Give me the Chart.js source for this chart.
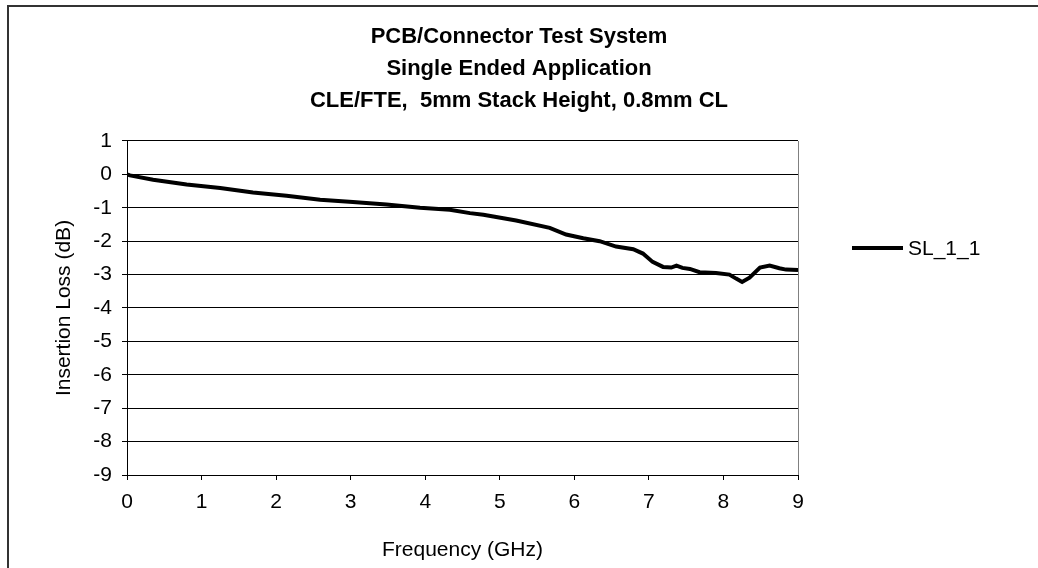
<!DOCTYPE html>
<html>
<head>
<meta charset="utf-8">
<script src="https://cdn.jsdelivr.net/npm/chart.js@4.4.0/dist/chart.umd.min.js"></script>
<style>
  html, body { margin: 0; padding: 0; background: #ffffff; }
  #wrap { width: 1038px; height: 568px; position: relative; }
  canvas { display: block; }
</style>
</head>
<body>
<div id="wrap"><canvas id="c" width="1038" height="568"></canvas></div>
<script>
// ---- data ----
const titleLines = ["PCB/Connector Test System", "Single Ended Application", "CLE/FTE,  5mm Stack Height, 0.8mm CL"];
const seriesName = "SL_1_1";
const freqGHz = [0, 0.04, 0.35, 0.8, 1.25, 1.69, 2.14, 2.59, 3.03, 3.48, 3.93, 4.33, 4.6, 4.78, 5.22, 5.67, 5.89, 6.12, 6.34, 6.56, 6.79, 6.92, 7.05, 7.19, 7.3, 7.37, 7.45, 7.55, 7.68, 7.9, 8.08, 8.17, 8.25, 8.35, 8.49, 8.62, 8.75, 8.84, 9.0];
const lossDB = [0, -0.03, -0.16, -0.30, -0.41, -0.54, -0.64, -0.76, -0.83, -0.90, -1.0, -1.06, -1.16, -1.21, -1.38, -1.6, -1.8, -1.91, -2.0, -2.16, -2.24, -2.37, -2.62, -2.77, -2.79, -2.73, -2.8, -2.83, -2.93, -2.95, -3.0, -3.12, -3.22, -3.09, -2.79, -2.73, -2.81, -2.85, -2.86];
const xTicks = [0, 1, 2, 3, 4, 5, 6, 7, 8, 9];
const yTicks = [1, 0, -1, -2, -3, -4, -5, -6, -7, -8, -9];
const xTitle = "Frequency (GHz)";
const yTitle = "Insertion Loss (dB)";

const FONT = "'Liberation Sans', Arial, sans-serif";
const points = freqGHz.map((f, i) => ({ x: f, y: lossDB[i] }));

const frame = {
  id: 'frame',
  beforeDraw(chart) {
    const ctx = chart.ctx;
    ctx.save();
    ctx.fillStyle = '#ffffff';
    ctx.fillRect(0, 0, chart.width, chart.height);
    ctx.strokeStyle = '#333333';
    ctx.lineWidth = 2;
    ctx.strokeRect(8, 6, 1200, 800);
    ctx.restore();
  }
};

const sideLegend = {
  id: 'sideLegend',
  afterDraw(chart) {
    const ctx = chart.ctx;
    const ds = chart.data.datasets[0];
    const x0 = chart.chartArea.right + 54;
    const y0 = 248;
    ctx.save();
    ctx.strokeStyle = ds.borderColor;
    ctx.lineWidth = ds.borderWidth;
    ctx.beginPath();
    ctx.moveTo(x0, y0);
    ctx.lineTo(x0 + 51, y0);
    ctx.stroke();
    ctx.fillStyle = '#000000';
    ctx.font = "21px " + FONT;
    ctx.textBaseline = 'middle';
    ctx.textAlign = 'left';
    ctx.fillText(ds.label, x0 + 56, y0 + 1);
    ctx.restore();
  }
};

new Chart(document.getElementById('c'), {
  type: 'line',
  data: {
    datasets: [{
      label: seriesName,
      data: points,
      borderColor: '#000000',
      backgroundColor: '#000000',
      borderWidth: 4,
      pointRadius: 0,
      tension: 0,
      fill: false
    }]
  },
  options: {
    responsive: false,
    animation: false,
    events: [],
    layout: { padding: 0 },
    plugins: {
      legend: { display: false },
      tooltip: { enabled: false },
      title: {
        display: true,
        text: titleLines,
        color: '#000000',
        font: { family: FONT, size: 22, weight: 'bold', lineHeight: 1.4545 },
        padding: { top: 21, bottom: 24 }
      }
    },
    scales: {
      x: {
        type: 'linear',
        min: 0, max: 9,
        afterBuildTicks(scale) { scale.ticks = xTicks.map(v => ({ value: v })); },
        afterFit(scale) { scale.height = 93; },
        ticks: { color: '#000000', font: { family: FONT, size: 21 }, padding: 10, maxRotation: 0, autoSkip: false,
                 callback: v => String(v) },
        grid: {
          drawOnChartArea: true,
          color: c => (c.tick && c.tick.value === 9) ? '#808080' : 'rgba(0,0,0,0)',
          tickColor: '#000000',
          tickLength: 5,
          lineWidth: 1
        },
        border: { color: '#000000', width: 1 },
        title: { display: true, text: xTitle, color: '#000000', font: { family: FONT, size: 21 }, padding: { top: 0, bottom: 5 } }
      },
      y: {
        type: 'linear',
        min: -9, max: 1,
        afterBuildTicks(scale) { scale.ticks = yTicks.slice().reverse().map(v => ({ value: v })); },
        afterFit(scale) { scale.width = 127; },
        ticks: { color: '#000000', font: { family: FONT, size: 21 }, padding: 10, autoSkip: false,
                 callback: v => String(v) },
        grid: { color: '#000000', tickColor: '#000000', tickLength: 5, lineWidth: 1 },
        border: { color: '#000000', width: 1 },
        title: { display: true, text: yTitle, color: '#000000', font: { family: FONT, size: 21 }, padding: { top: 52, bottom: 0 } }
      },
      legendSpace: {
        type: 'linear',
        position: 'right',
        display: true,
        afterFit(scale) { scale.width = 240; },
        ticks: { display: false },
        grid: { display: false },
        border: { display: false },
        title: { display: false }
      }
    }
  },
  plugins: [frame, sideLegend]
});
</script>
</body>
</html>
